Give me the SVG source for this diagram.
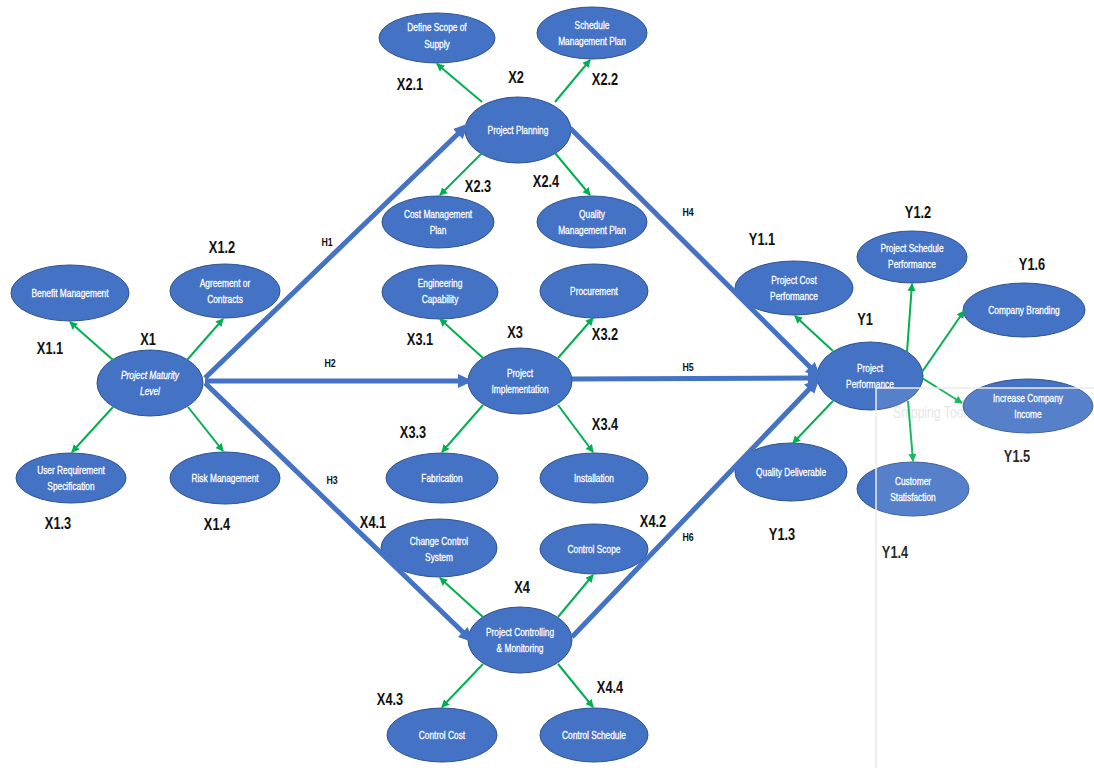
<svg xmlns="http://www.w3.org/2000/svg" width="1094" height="768" viewBox="0 0 1094 768">
<defs>
<style>
.n ellipse{fill:#4472C4;stroke:#2F528F;stroke-width:1}
.n text{fill:#fff;stroke:#fff;stroke-width:0.3;font-family:"Liberation Sans",Arial,sans-serif;font-size:11px;text-anchor:middle}
.lbl{fill:#111;font-family:"Liberation Sans",Arial,sans-serif;font-size:16px;font-weight:bold;text-anchor:middle}
.h{fill:#111;font-family:"Liberation Sans",Arial,sans-serif;font-size:11px;font-weight:bold;text-anchor:middle}
.b{stroke:#4472C4;stroke-width:5;fill:none;marker-end:url(#ab)}
.g{stroke:#00B050;stroke-width:2;fill:none;marker-end:url(#ag)}
</style>
<marker id="ab" markerUnits="userSpaceOnUse" markerWidth="16" markerHeight="16" refX="10" refY="7" orient="auto"><path d="M0,0 L15,7 L0,14 z" fill="#4472C4"/></marker>
<marker id="ag" markerUnits="userSpaceOnUse" markerWidth="10" markerHeight="10" refX="7" refY="4" orient="auto"><path d="M0,0 L8,4 L0,8 z" fill="#00B050"/></marker>
</defs>
<rect width="1094" height="768" fill="#fff"/>
<text transform="translate(893 418) scale(.72 1)" font-family="Liberation Sans,Arial,sans-serif" font-size="17" fill="#e4e4e4">Snipping Tool</text>

<g id="x1" class="n"><ellipse cx="150" cy="383" rx="53" ry="33"/><text transform="translate(150 379) scale(.76 1)" font-style="italic">Project Maturity</text><text transform="translate(150 395) scale(.76 1)" font-style="italic">Level</text></g>
<g id="x11" class="n"><ellipse cx="70" cy="293" rx="59" ry="28"/><text transform="translate(70 297) scale(.76 1)">Benefit Management</text></g>
<g id="x12" class="n"><ellipse cx="225" cy="291" rx="55" ry="27"/><text transform="translate(225 287) scale(.76 1)">Agreement or</text><text transform="translate(225 303) scale(.76 1)">Contracts</text></g>
<g id="x13" class="n"><ellipse cx="71" cy="478" rx="55" ry="25"/><text transform="translate(71 474) scale(.76 1)">User Requirement</text><text transform="translate(71 490) scale(.76 1)">Specification</text></g>
<g id="x14" class="n"><ellipse cx="225" cy="478" rx="55" ry="26"/><text transform="translate(225 482) scale(.76 1)">Risk Management</text></g>

<g id="x2" class="n"><ellipse cx="518" cy="130" rx="53" ry="33"/><text transform="translate(518 134) scale(.76 1)">Project Planning</text></g>
<g id="x21" class="n"><ellipse cx="437" cy="38" rx="58" ry="25"/><text transform="translate(437 31) scale(.76 1)">Define Scope of</text><text transform="translate(437 48) scale(.76 1)">Supply</text></g>
<g id="x22" class="n"><ellipse cx="592" cy="33" rx="55" ry="26"/><text transform="translate(592 29) scale(.76 1)">Schedule</text><text transform="translate(592 45) scale(.76 1)">Management Plan</text></g>
<g id="x23" class="n"><ellipse cx="438" cy="222" rx="56" ry="26"/><text transform="translate(438 218) scale(.76 1)">Cost Management</text><text transform="translate(438 234) scale(.76 1)">Plan</text></g>
<g id="x24" class="n"><ellipse cx="592" cy="222" rx="55" ry="26"/><text transform="translate(592 218) scale(.76 1)">Quality</text><text transform="translate(592 234) scale(.76 1)">Management Plan</text></g>

<g id="x3" class="n"><ellipse cx="520" cy="381" rx="52" ry="33"/><text transform="translate(520 377) scale(.76 1)">Project</text><text transform="translate(520 393) scale(.76 1)">Implementation</text></g>
<g id="x31" class="n"><ellipse cx="440" cy="292" rx="58" ry="27"/><text transform="translate(440 287) scale(.76 1)">Engineering</text><text transform="translate(440 303) scale(.76 1)">Capability</text></g>
<g id="x32" class="n"><ellipse cx="594" cy="291" rx="54" ry="27"/><text transform="translate(594 295) scale(.76 1)">Procurement</text></g>
<g id="x33" class="n"><ellipse cx="442" cy="478" rx="56" ry="25"/><text transform="translate(442 482) scale(.76 1)">Fabrication</text></g>
<g id="x34" class="n"><ellipse cx="594" cy="478" rx="54" ry="25"/><text transform="translate(594 482) scale(.76 1)">Installation</text></g>

<g id="x4" class="n"><ellipse cx="520" cy="640" rx="52" ry="33"/><text transform="translate(520 636) scale(.76 1)">Project Controlling</text><text transform="translate(520 652) scale(.76 1)">&amp; Monitoring</text></g>
<g id="x41" class="n"><ellipse cx="439" cy="548" rx="58" ry="29"/><text transform="translate(439 545) scale(.76 1)">Change Control</text><text transform="translate(439 561) scale(.76 1)">System</text></g>
<g id="x42" class="n"><ellipse cx="594" cy="549" rx="54" ry="25"/><text transform="translate(594 553) scale(.76 1)">Control Scope</text></g>
<g id="x43" class="n"><ellipse cx="442" cy="735" rx="55" ry="27"/><text transform="translate(442 739) scale(.76 1)">Control Cost</text></g>
<g id="x44" class="n"><ellipse cx="594" cy="735" rx="54" ry="27"/><text transform="translate(594 739) scale(.76 1)">Control Schedule</text></g>

<g id="y1" class="n"><ellipse cx="870" cy="376" rx="53" ry="34"/><text transform="translate(870 372) scale(.76 1)">Project</text><text transform="translate(870 388) scale(.76 1)">Performance</text></g>
<g id="y11" class="n"><ellipse cx="794" cy="288" rx="59" ry="27"/><text transform="translate(794 284) scale(.76 1)">Project Cost</text><text transform="translate(794 300) scale(.76 1)">Performance</text></g>
<g id="y12" class="n"><ellipse cx="912" cy="257" rx="55" ry="26"/><text transform="translate(912 252) scale(.76 1)">Project Schedule</text><text transform="translate(912 268) scale(.76 1)">Performance</text></g>
<g id="y13" class="n"><ellipse cx="791" cy="472" rx="56" ry="29"/><text transform="translate(791 476) scale(.76 1)">Quality Deliverable</text></g>
<g id="y14" class="n"><ellipse cx="913" cy="489" rx="56" ry="27"/><text transform="translate(913 485) scale(.76 1)">Customer</text><text transform="translate(913 501) scale(.76 1)">Statisfaction</text></g>
<g id="y15" class="n"><ellipse cx="1028" cy="406" rx="65" ry="27"/><text transform="translate(1028 402) scale(.76 1)">Increase Company</text><text transform="translate(1028 418) scale(.76 1)">Income</text></g>
<g id="y16" class="n"><ellipse cx="1024" cy="310" rx="61" ry="27"/><text transform="translate(1024 314) scale(.76 1)">Company Branding</text></g>

<g id="connectors">
<line class="b" x1="205" y1="378" x2="465" y2="127"/>
<line class="b" x1="205" y1="381" x2="468" y2="381"/>
<line class="b" x1="205" y1="383" x2="470" y2="639"/>
<line class="b" x1="570" y1="128" x2="817" y2="374"/>
<line class="b" x1="572" y1="379" x2="818" y2="378"/>
<line class="b" x1="572" y1="637" x2="816" y2="382"/>

<line class="g" x1="113" y1="360" x2="70" y2="322"/>
<line class="g" x1="187" y1="360" x2="223" y2="319"/>
<line class="g" x1="113" y1="407" x2="72" y2="452"/>
<line class="g" x1="188" y1="407" x2="223" y2="451"/>

<line class="g" x1="482" y1="102" x2="437" y2="64"/>
<line class="g" x1="555" y1="102" x2="590" y2="60"/>
<line class="g" x1="482" y1="153" x2="440" y2="195"/>
<line class="g" x1="555" y1="153" x2="590" y2="195"/>

<line class="g" x1="483" y1="358" x2="440" y2="319"/>
<line class="g" x1="558" y1="358" x2="593" y2="318"/>
<line class="g" x1="483" y1="405" x2="442" y2="452"/>
<line class="g" x1="558" y1="405" x2="593" y2="452"/>

<line class="g" x1="483" y1="617" x2="440" y2="578"/>
<line class="g" x1="558" y1="617" x2="593" y2="575"/>
<line class="g" x1="483" y1="664" x2="442" y2="707"/>
<line class="g" x1="558" y1="664" x2="593" y2="707"/>

<line class="g" x1="833" y1="351" x2="795" y2="316"/>
<line class="g" x1="907" y1="352" x2="912" y2="284"/>
<line class="g" x1="922" y1="372" x2="964" y2="311"/>
<line class="g" x1="922" y1="378" x2="962" y2="403"/>
<line class="g" x1="833" y1="401" x2="793" y2="443"/>
<line class="g" x1="908" y1="401" x2="913" y2="461"/>
</g>

<g id="labels">
<text class="lbl" transform="translate(50 354) scale(.8 1)">X1.1</text>
<text class="lbl" transform="translate(148 345) scale(.8 1)">X1</text>
<text class="lbl" transform="translate(222 253) scale(.8 1)">X1.2</text>
<text class="lbl" transform="translate(58 529) scale(.8 1)">X1.3</text>
<text class="lbl" transform="translate(217 530) scale(.8 1)">X1.4</text>
<text class="lbl" transform="translate(410 90) scale(.8 1)">X2.1</text>
<text class="lbl" transform="translate(516 83) scale(.8 1)">X2</text>
<text class="lbl" transform="translate(605 85) scale(.8 1)">X2.2</text>
<text class="lbl" transform="translate(478 192) scale(.8 1)">X2.3</text>
<text class="lbl" transform="translate(546 187) scale(.8 1)">X2.4</text>
<text class="lbl" transform="translate(420 345) scale(.8 1)">X3.1</text>
<text class="lbl" transform="translate(515 338) scale(.8 1)">X3</text>
<text class="lbl" transform="translate(605 340) scale(.8 1)">X3.2</text>
<text class="lbl" transform="translate(413 438) scale(.8 1)">X3.3</text>
<text class="lbl" transform="translate(605 430) scale(.8 1)">X3.4</text>
<text class="lbl" transform="translate(373 528) scale(.8 1)">X4.1</text>
<text class="lbl" transform="translate(522 593) scale(.8 1)">X4</text>
<text class="lbl" transform="translate(653 527) scale(.8 1)">X4.2</text>
<text class="lbl" transform="translate(390 705) scale(.8 1)">X4.3</text>
<text class="lbl" transform="translate(610 693) scale(.8 1)">X4.4</text>
<text class="lbl" transform="translate(762 245) scale(.8 1)">Y1.1</text>
<text class="lbl" transform="translate(918 218) scale(.8 1)">Y1.2</text>
<text class="lbl" transform="translate(1032 270) scale(.8 1)">Y1.6</text>
<text class="lbl" transform="translate(865 325) scale(.8 1)">Y1</text>
<text class="lbl" transform="translate(1017 462) scale(.8 1)">Y1.5</text>
<text class="lbl" transform="translate(782 540) scale(.8 1)">Y1.3</text>
<text class="lbl" transform="translate(895 558) scale(.8 1)">Y1.4</text>
<text class="h" transform="translate(327 246) scale(.8 1)">H1</text>
<text class="h" transform="translate(330 367) scale(.8 1)">H2</text>
<text class="h" transform="translate(332 484) scale(.8 1)">H3</text>
<text class="h" transform="translate(688 216) scale(.8 1)">H4</text>
<text class="h" transform="translate(688 371) scale(.8 1)">H5</text>
<text class="h" transform="translate(688 541) scale(.8 1)">H6</text>
</g>

<rect x="876" y="388" width="220" height="382" fill="#fff" fill-opacity="0.1" stroke="#ececec" stroke-width="1.5"/>
</svg>
